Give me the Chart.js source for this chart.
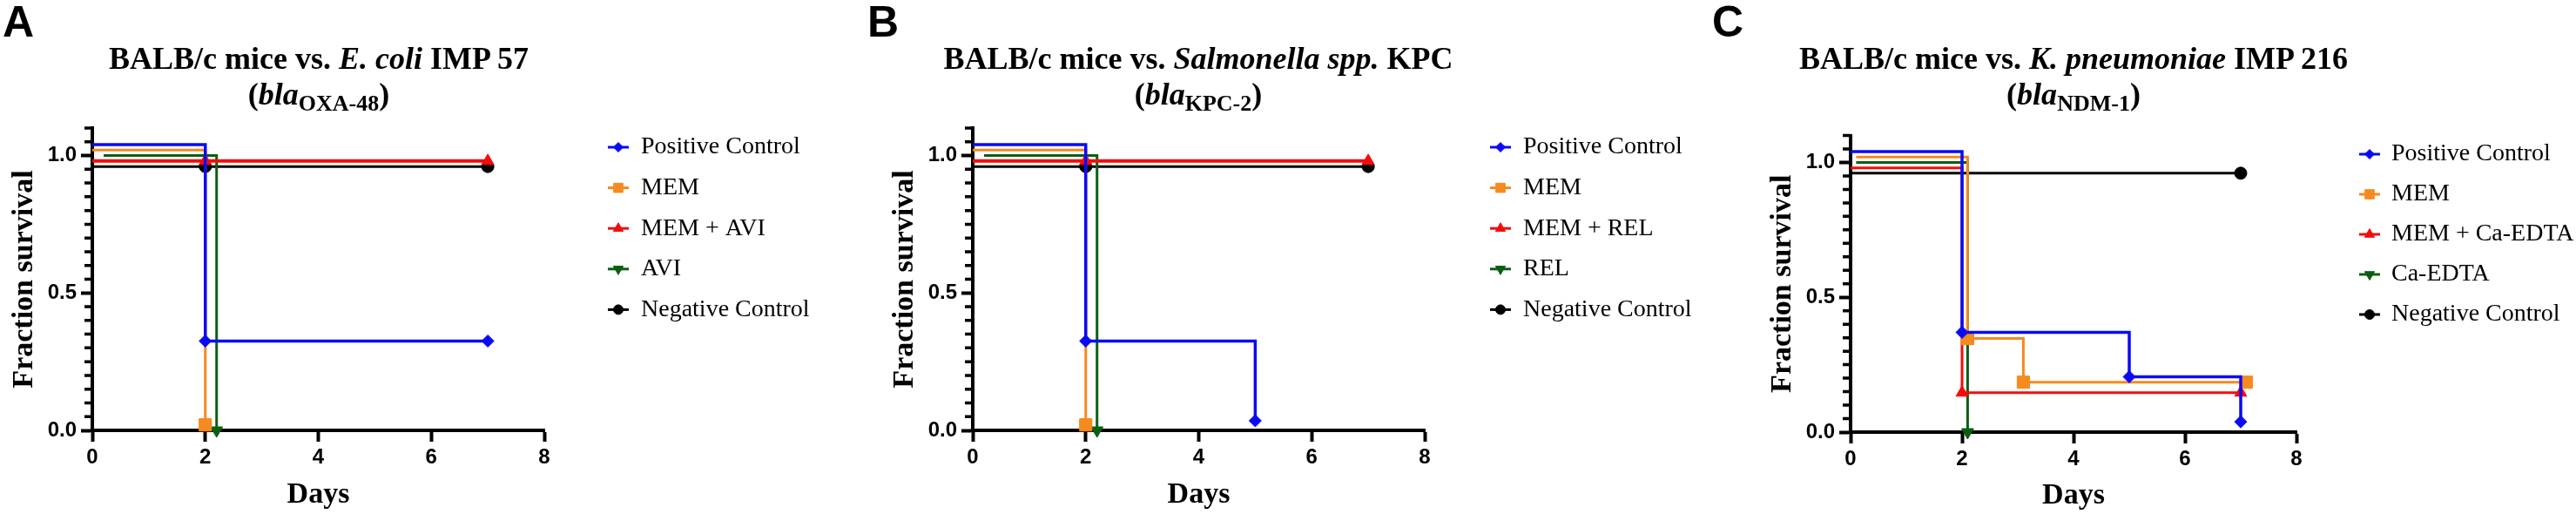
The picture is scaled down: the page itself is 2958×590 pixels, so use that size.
<!DOCTYPE html>
<html>
<head>
<meta charset="utf-8">
<script src="https://cdn.jsdelivr.net/npm/chart.js@4"></script>
<style>
html,body{margin:0;padding:0;background:#fff;}
body{width:2958px;height:590px;position:relative;overflow:hidden;}
canvas.panel{position:absolute;top:0;}
.letter{position:absolute;top:0;font-family:'Liberation Sans',Arial,sans-serif;font-weight:bold;font-size:50px;line-height:50px;color:#000;}
.title{position:absolute;top:47px;width:800px;text-align:center;font-family:'Liberation Serif','Times New Roman',serif;font-weight:bold;font-size:36px;line-height:41px;color:#000;white-space:nowrap;}
.title .s{font-size:26px;position:relative;top:7px;line-height:0;}
</style>
</head>
<body>
<canvas id="cA" class="panel" width="986" height="590" style="left:0px"></canvas>
<canvas id="cB" class="panel" width="986" height="590" style="left:986px"></canvas>
<canvas id="cC" class="panel" width="986" height="590" style="left:1972px"></canvas>

<div class="letter" style="left:3px">A</div>
<div class="letter" style="left:996px">B</div>
<div class="letter" style="left:1966px">C</div>

<div class="title" style="left:-34px">BALB/c mice vs. <i>E. coli</i> IMP 57<br>(<i>bla</i><span class="s">OXA-48</span>)</div>
<div class="title" style="left:976px">BALB/c mice vs. <i>Salmonella spp.</i> KPC<br>(<i>bla</i><span class="s">KPC-2</span>)</div>
<div class="title" style="left:1981px">BALB/c mice vs. <i>K. pneumoniae</i> IMP 216<br>(<i>bla</i><span class="s">NDM-1</span>)</div>

<script>
// ---------- tick labels ----------
const xTicks = [0, 2, 4, 6, 8];
const yMajorTicks = [0, 0.5, 1.0];
const yMinorTicks = [0.05,0.1,0.15,0.2,0.25,0.3,0.35,0.4,0.45,0.55,0.6,0.65,0.7,0.75,0.8,0.85,0.9,0.95,1.05,1.1];

// ---------- legend labels ----------
const namesA = ['Positive Control', 'MEM', 'MEM + AVI', 'AVI', 'Negative Control'];
const namesB = ['Positive Control', 'MEM', 'MEM + REL', 'REL', 'Negative Control'];
const namesC = ['Positive Control', 'MEM', 'MEM + Ca-EDTA', 'Ca-EDTA', 'Negative Control'];

// ---------- panel A: E. coli IMP 57 (days, fraction survival as plotted) ----------
const A_pos_x = [0, 2, 7];        const A_pos_y = [1.04, 0.325, 0.325];
const A_mem_x = [0, 2];           const A_mem_y = [1.02, 0.02];
const A_combo_x = [0, 2, 7];      const A_combo_y = [0.98, 0.98, 0.98];
const A_inh_x = [0.2, 2.2];       const A_inh_y = [1.0, 0.0];
const A_neg_x = [0, 2, 7];        const A_neg_y = [0.96, 0.96, 0.96];

// ---------- panel B: Salmonella spp. KPC ----------
const B_pos_x = [0, 2, 5];        const B_pos_y = [1.04, 0.325, 0.035];
const B_mem_x = [0, 2];           const B_mem_y = [1.02, 0.02];
const B_combo_x = [0, 2, 7];      const B_combo_y = [0.98, 0.98, 0.98];
const B_inh_x = [0.2, 2.2];       const B_inh_y = [1.0, 0.0];
const B_neg_x = [0, 2, 7];        const B_neg_y = [0.96, 0.96, 0.96];

// ---------- panel C: K. pneumoniae IMP 216 ----------
const C_pos_x = [0, 2, 5, 7];       const C_pos_y = [1.04, 0.37, 0.205, 0.038];
const C_mem_x = [0.1, 2.1, 3.1, 7.1]; const C_mem_y = [1.02, 0.347, 0.185, 0.185];
const C_combo_x = [0, 2, 7];        const C_combo_y = [0.98, 0.146, 0.146];
const C_inh_x = [0.1, 2.1];         const C_inh_y = [1.0, 0.0];
const C_neg_x = [0, 7];             const C_neg_y = [0.96, 0.96];

// ---------- styles ----------
const COLORS = ['#0a0af5', '#f58a1f', '#f20d0d', '#0c5e12', '#000000'];
const STYLES = ['rectRot', 'rect', 'triangle', 'triangle', 'circle'];
const ROTS = [0, 0, 0, 180, 0];
const RADII = [7, 10, 8, 8, 7];
const LEG_RADII = [5.5, 7.5, 6.5, 6.5, 5.5];

Chart.defaults.font.family = "'Liberation Sans', Arial, sans-serif";
Chart.defaults.color = '#000';

function series(label, xs, ys, i, width) {
  return {
    label: label,
    data: xs.map((x, k) => ({x: x, y: ys[k]})),
    borderColor: COLORS[i],
    backgroundColor: COLORS[i],
    pointBackgroundColor: COLORS[i],
    pointBorderColor: COLORS[i],
    pointBorderWidth: 1,
    borderWidth: width,
    stepped: true,
    tension: 0,
    fill: false,
    clip: false,
    borderCapStyle: 'butt',
    borderJoinStyle: 'miter',
    pointStyle: STYLES[i],
    pointRotation: ROTS[i],
    pointRadius: c => (c.dataIndex === 0 ? 0 : RADII[i]),
    pointHoverRadius: c => (c.dataIndex === 0 ? 0 : RADII[i]),
    legRadius: LEG_RADII[i]
  };
}

const minorTickPlugin = {
  id: 'minorTicks',
  afterDraw(chart) {
    const s = chart.scales.y;
    const ctx = chart.ctx;
    ctx.save();
    ctx.strokeStyle = '#000';
    ctx.lineWidth = 3.5;
    ctx.beginPath();
    yMinorTicks.forEach(v => {
      const py = s.getPixelForValue(v);
      ctx.moveTo(s.right - 9, py);
      ctx.lineTo(s.right, py);
    });
    ctx.stroke();
    ctx.restore();
  }
};

const kmLegendPlugin = {
  id: 'kmLegend',
  afterDraw(chart, args, opts) {
    const ctx = chart.ctx;
    ctx.save();
    chart.data.datasets.forEach((ds, i) => {
      const y = opts.top + i * opts.gap;
      ctx.strokeStyle = ds.borderColor;
      ctx.fillStyle = ds.borderColor;
      ctx.lineWidth = 3;
      ctx.beginPath();
      ctx.moveTo(opts.mx - 12, y);
      ctx.lineTo(opts.mx + 12, y);
      ctx.stroke();
      ctx.lineWidth = 1;
      Chart.helpers.drawPoint(ctx, {pointStyle: ds.pointStyle, rotation: ds.pointRotation, radius: ds.legRadius, borderWidth: 1}, opts.mx, y);
      ctx.fillStyle = '#000';
      ctx.font = "28px 'Liberation Serif', 'Times New Roman', serif";
      ctx.textAlign = 'left';
      ctx.textBaseline = 'middle';
      ctx.fillText(ds.label, opts.tx, y);
    });
    ctx.restore();
  }
};

function makeChart(id, datasets, pad, xH, daysPad, leg) {
  return new Chart(document.getElementById(id), {
    type: 'line',
    data: {datasets: datasets},
    plugins: [minorTickPlugin, kmLegendPlugin],
    options: {
      responsive: false,
      animation: false,
      events: [],
      layout: {padding: pad},
      plugins: {
        legend: {display: false},
        title: {display: false},
        tooltip: {enabled: false},
        kmLegend: leg
      },
      scales: {
        x: {
          type: 'linear', min: 0, max: 8,
          afterBuildTicks: s => { s.ticks = xTicks.map(v => ({value: v})); },
          afterFit: s => { s.height = xH; },
          border: {display: true, color: '#000', width: 4},
          grid: {display: true, drawOnChartArea: false, drawTicks: true, tickLength: 13, tickWidth: 4, tickColor: '#000'},
          ticks: {font: {family: "'Liberation Sans', Arial, sans-serif", weight: 'bold', size: 24}, color: '#000', padding: 4, maxRotation: 0, autoSkip: false, callback: v => String(v)},
          title: {display: true, text: 'Days', color: '#000', font: {family: "'Liberation Serif', 'Times New Roman', serif", weight: 'bold', size: 34}, padding: {top: 0, bottom: daysPad}}
        },
        y: {
          type: 'linear', min: 0, max: 1.1,
          afterBuildTicks: s => { s.ticks = yMajorTicks.map(v => ({value: v})); },
          afterFit: s => { s.width = 106; },
          border: {display: true, color: '#000', width: 4},
          grid: {display: true, drawOnChartArea: false, drawTicks: true, tickLength: 13, tickWidth: 4, tickColor: '#000'},
          ticks: {font: {family: "'Liberation Sans', Arial, sans-serif", weight: 'bold', size: 24}, color: '#000', padding: 5, autoSkip: false, callback: v => v.toFixed(1)},
          title: {display: true, text: 'Fraction survival', color: '#000', font: {family: "'Liberation Serif', 'Times New Roman', serif", weight: 'bold', size: 34}, padding: {top: 8, bottom: 0}}
        }
      }
    }
  });
}

makeChart('cA', [
  series(namesA[0], A_pos_x, A_pos_y, 0, 3.5),
  series(namesA[1], A_mem_x, A_mem_y, 1, 3),
  series(namesA[2], A_combo_x, A_combo_y, 2, 4),
  series(namesA[3], A_inh_x, A_inh_y, 3, 3),
  series(namesA[4], A_neg_x, A_neg_y, 4, 3)
], {left: 0, top: 147, right: 361, bottom: 0}, 96, 1, {mx: 710, tx: 736, top: 169, gap: 46.6});

makeChart('cB', [
  series(namesB[0], B_pos_x, B_pos_y, 0, 3.5),
  series(namesB[1], B_mem_x, B_mem_y, 1, 3),
  series(namesB[2], B_combo_x, B_combo_y, 2, 4),
  series(namesB[3], B_inh_x, B_inh_y, 3, 3),
  series(namesB[4], B_neg_x, B_neg_y, 4, 3)
], {left: 25, top: 147, right: 336, bottom: 0}, 96, 1, {mx: 737, tx: 763, top: 169, gap: 46.6});

makeChart('cC', [
  series(namesC[0], C_pos_x, C_pos_y, 0, 3.5),
  series(namesC[1], C_mem_x, C_mem_y, 1, 3),
  series(namesC[2], C_combo_x, C_combo_y, 2, 3),
  series(namesC[3], C_inh_x, C_inh_y, 3, 3),
  series(namesC[4], C_neg_x, C_neg_y, 4, 3)
], {left: 47, top: 155.5, right: 321, bottom: 0}, 94, 0, {mx: 749, tx: 774, top: 177, gap: 46});
</script>
</body>
</html>
